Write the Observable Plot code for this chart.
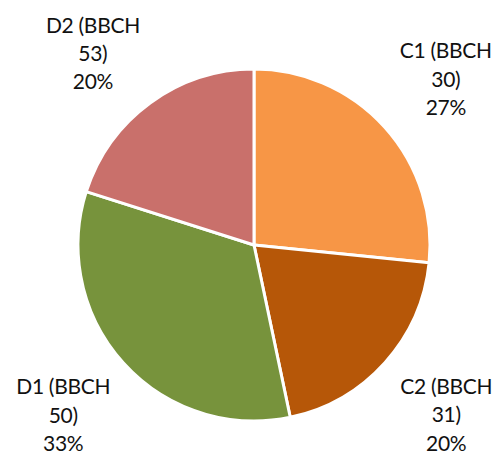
<!DOCTYPE html>
<html><head><meta charset="utf-8">
<script src="https://cdn.jsdelivr.net/npm/d3@7"></script>
<script src="https://cdn.jsdelivr.net/npm/@observablehq/plot@0.6"></script>
<style>body{margin:0;background:#fff}</style>
</head><body><div id="chart"></div>
<script>
const categories = ["C1", "C2", "D1", "D2"];
const bbch = [30, 31, 50, 53];
const values = [26.6, 20.1, 33.2, 20.1];
const colors = ["#F79646", "#B65708", "#77933C", "#C9706B"];

const total = d3.sum(values);
const data = categories.map((c, i) => ({category: c, bbch: bbch[i], value: values[i], color: colors[i]}));
const arcs = d3.pie().sort(null).value(d => d.value)(data);

// Outside-end label placement (in units of the pie radius):
// anchor just outside the rim, then shifted by half the label box.
const gapX = 1.115, halfW = 0.26;
const gapY = 1.068, halfH = 0.238;
const labels = arcs.map(a => {
  const mid = (a.startAngle + a.endAngle) / 2;
  const s = Math.sin(mid), c = Math.cos(mid);
  return {
    x: gapX * s + halfW * Math.sign(s),
    y: gapY * c + halfH * Math.sign(c),
    text: `${a.data.category} (BBCH\n${a.data.bbch})\n${d3.format(".0%")(a.data.value / total)}`
  };
});

function pieMark(index, scales, values, dimensions, context) {
  const cx = scales.x(0), cy = scales.y(0);
  const r = scales.x(1) - scales.x(0);
  const arc = d3.arc().innerRadius(0).outerRadius(r);
  const g = d3.create("svg:g").attr("transform", `translate(${cx},${cy})`);
  g.selectAll("path").data(arcs).join("path")
    .attr("d", arc)
    .attr("fill", d => d.data.color)
    .attr("stroke", "white")
    .attr("stroke-width", 3)
    .attr("stroke-linejoin", "round");
  return g.node();
}

const chart = Plot.plot({
  width: 494,
  height: 452,
  marginLeft: 78,
  marginRight: 64,
  marginTop: 69,
  marginBottom: 31,
  x: {domain: [-1, 1], axis: null},
  y: {domain: [-1, 1], axis: null},
  style: {fontFamily: "Lato, 'Open Sans', sans-serif", background: "white", letterSpacing: "-0.3px"},
  marks: [
    pieMark,
    Plot.text(labels, {x: "x", y: "y", text: "text", fontSize: 21, lineHeight: 1.357, fill: "#111", textAnchor: "middle"})
  ]
});
document.getElementById("chart").appendChild(chart);
</script>
</body></html>
